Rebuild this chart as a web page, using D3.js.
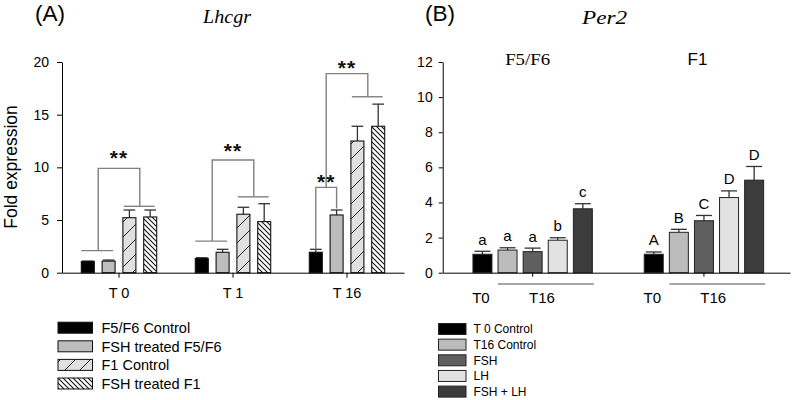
<!DOCTYPE html>
<html><head><meta charset="utf-8">
<script src="https://cdn.jsdelivr.net/npm/d3@7"></script>
<style>body{margin:0;background:#fff} svg{display:block}</style>
</head><body><svg id="c" width="792" height="400"></svg>
<script>
// ---------- Panel A data (Lhcgr) ----------
const groupsA = ["T 0", "T 1", "T 16"];
const seriesA = ["F5/F6 Control", "FSH treated F5/F6", "F1 Control", "FSH treated F1"];
const meansA = [[1.07, 1.1, 5.22, 5.29], [1.35, 1.94, 5.55, 4.85], [1.94, 5.48, 12.5, 13.9]];
const errTopA = [[1.1, 1.2, 5.95, 5.95], [1.42, 2.22, 6.21, 6.55], [2.22, 5.95, 13.9, 16.0]];
const ticksA = [0, 5, 10, 15, 20];
// significance brackets: series indices on each side, levels in fold units
const bracketGroupA = [0, 1, 2, 2];
const bracketLeftA = [[0, 1], [0, 1], [0], [0, 1]];
const bracketRightA = [[2, 3], [2, 3], [1], [2, 3]];
const bracketLeftLowA = [2.1, 3.0, 2.2, 8.1];
const bracketRightLowA = [6.3, 7.2, 6.1, 16.7];
const bracketLeftBaseA = [true, true, false, false];
const bracketRightBaseA = [true, true, false, true];
const bracketTopA = [9.9, 10.7, 8.1, 18.9];
const starLevelA = [11.3, 12.0, 9.0, 19.9];
const starTextA = ["**", "**", "**", "**"];

// ---------- Panel B data (Per2) ----------
const groupsB = ["F5/F6", "F1"];
const seriesB = ["T 0 Control", "T16 Control", "FSH", "LH", "FSH + LH"];
const meansB = [[1.05, 1.29, 1.2, 1.85, 3.64], [1.05, 2.3, 2.96, 4.28, 5.27]];
const errTopB = [[1.22, 1.42, 1.4, 1.99, 3.93], [1.18, 2.47, 3.26, 4.66, 6.05]];
const lettersB = [["a", "a", "a", "b", "c"], ["A", "B", "C", "D", "D"]];
const ticksB = [0, 2, 4, 6, 8, 10, 12];
const timeLabelsB = ["T0", "T16"];

// ---------- setup ----------
const svg = d3.select("#c");
const FONT = "'Liberation Sans', Arial, sans-serif";
const SERIF = "'Liberation Serif', 'Times New Roman', serif";
svg.append("rect").attr("width", 792).attr("height", 400).attr("fill", "#fff");

const defs = svg.append("defs");
const pf = defs.append("pattern").attr("id", "hatchF").attr("patternUnits", "userSpaceOnUse")
  .attr("width", 15).attr("height", 15);
pf.append("rect").attr("width", 15).attr("height", 15).attr("fill", "#e0e0e0");
pf.append("path").attr("d", "M0,15 L15,0 M-4,4 L4,-4 M11,19 L19,11")
  .attr("stroke", "#222").attr("stroke-width", 1);
const pb = defs.append("pattern").attr("id", "hatchB").attr("patternUnits", "userSpaceOnUse")
  .attr("width", 5).attr("height", 5);
pb.append("rect").attr("width", 5).attr("height", 5).attr("fill", "#fff");
pb.append("path").attr("d", "M0,0 L5,5 M-2,3 L2,7 M3,-2 L7,2")
  .attr("stroke", "#111").attr("stroke-width", 1.1);

const fillsA = ["#000000", "#bdbdbd", "url(#hatchF)", "url(#hatchB)"];
const fillsB = ["#000000", "#bcbcbc", "#5f5f5f", "#e2e2e2", "#3c3c3c"];

function styleAxis(g, size) {
  g.selectAll("path,line").attr("stroke", "#000").attr("stroke-width", 1);
  g.selectAll("text").attr("font-family", FONT).attr("font-size", size).attr("fill", "#000");
}

// ---------- Panel A ----------
const yA = d3.scaleLinear().domain([0, 20]).range([272.7, 62]);
const x0A = d3.scaleBand().domain(groupsA).range([62, 404]);
const halfA = x0A.bandwidth() / 2;
const x1A = d3.scaleBand().domain(seriesA).range([halfA - 41.6, halfA + 41.6])
  .paddingInner(0.375).paddingOuter(0.1875);
const bwA = x1A.bandwidth();
const cxA = (gi, si) => x0A(groupsA[gi]) + x1A(seriesA[si]) + bwA / 2;

const gA = svg.append("g");
groupsA.forEach((g, gi) => {
  seriesA.forEach((s, si) => {
    const v = meansA[gi][si], e = errTopA[gi][si], cx = cxA(gi, si);
    gA.append("line").attr("x1", cx).attr("x2", cx).attr("y1", yA(v)).attr("y2", yA(e))
      .attr("stroke", "#333").attr("stroke-width", 1.3);
    gA.append("line").attr("x1", cx - bwA * 0.45).attr("x2", cx + bwA * 0.45)
      .attr("y1", yA(e)).attr("y2", yA(e)).attr("stroke", "#333").attr("stroke-width", 1.3);
    gA.append("rect").attr("x", cx - bwA / 2).attr("y", yA(v))
      .attr("width", bwA).attr("height", yA(0) - yA(v))
      .attr("fill", fillsA[si]).attr("stroke", "#111").attr("stroke-width", 1.1);
  });
});

// brackets
const gBr = svg.append("g").attr("stroke", "#808080").attr("stroke-width", 1.4).attr("fill", "none");
function sideInfo(gi, idx) {
  const l = x0A(groupsA[gi]) + x1A(seriesA[idx[0]]);
  const r = x0A(groupsA[gi]) + x1A(seriesA[idx[idx.length - 1]]) + bwA;
  const xv = idx.length === 1 ? cxA(gi, idx[0]) : (cxA(gi, idx[0]) + cxA(gi, idx[idx.length - 1])) / 2;
  return { l, r, xv };
}
bracketGroupA.forEach((gi, k) => {
  const L = sideInfo(gi, bracketLeftA[k]), R = sideInfo(gi, bracketRightA[k]);
  const yL = yA(bracketLeftLowA[k]), yR = yA(bracketRightLowA[k]), yT = yA(bracketTopA[k]);
  if (bracketLeftBaseA[k]) gBr.append("line").attr("x1", L.l).attr("x2", L.r - 2).attr("y1", yL).attr("y2", yL);
  if (bracketRightBaseA[k]) gBr.append("line").attr("x1", R.l + 1).attr("x2", R.r - 2).attr("y1", yR).attr("y2", yR);
  gBr.append("path").attr("d", `M${L.xv},${yL} V${yT} H${R.xv} V${yR}`);
  svg.append("text").attr("x", (L.xv + R.xv) / 2).attr("y", yA(starLevelA[k])).attr("dy", "0.55em")
    .attr("text-anchor", "middle").attr("font-family", FONT).attr("font-size", 21).attr("font-weight", "bold")
    .attr("letter-spacing", 1).attr("fill", "#111").text(starTextA[k]);
});

const axYA = svg.append("g").attr("transform", "translate(62,0)")
  .call(d3.axisLeft(yA).tickValues(ticksA).tickSize(5).tickSizeOuter(0).tickPadding(8));
styleAxis(axYA, 14);
const axXA = svg.append("g").attr("transform", `translate(0,${yA(0)})`)
  .call(d3.axisBottom(x0A).tickSize(5).tickSizeOuter(0).tickPadding(10));
styleAxis(axXA, 14.5);

svg.append("text").attr("transform", "translate(17,167) rotate(-90)").attr("text-anchor", "middle")
  .attr("font-family", FONT).attr("font-size", 17.5).text("Fold expression");
svg.append("text").attr("x", 35).attr("y", 21).attr("font-family", FONT).attr("font-size", 22.5).text("(A)");
svg.append("text").attr("x", 203).attr("y", 23).attr("font-family", SERIF).attr("font-style", "italic")
  .attr("font-size", 19).attr("textLength", 48).attr("lengthAdjust", "spacingAndGlyphs").text("Lhcgr");

// legend A
const legA = svg.append("g");
seriesA.forEach((s, i) => {
  const cy = 327.7 + i * 18.6;
  legA.append("rect").attr("x", 58).attr("y", cy - 5.5).attr("width", 34.5).attr("height", 11)
    .attr("fill", fillsA[i]).attr("stroke", "#111").attr("stroke-width", 1);
  legA.append("text").attr("x", 101.5).attr("y", cy).attr("dy", "0.36em")
    .attr("font-family", FONT).attr("font-size", 14.5).text(s);
});

// ---------- Panel B ----------
const yB = d3.scaleLinear().domain([0, 12]).range([272.7, 62]);
const x0B = d3.scaleBand().domain(groupsB).range([442.7, 790])
  .paddingInner(0).paddingOuter(0.0137).align(0.915);
const halfB = x0B.bandwidth() / 2;
const x1B = d3.scaleBand().domain(seriesB).range([halfB - 62.75, halfB + 62.75])
  .paddingInner(0.243).paddingOuter(0.1215);
const bwB = x1B.bandwidth();
const cxB = (gi, si) => x0B(groupsB[gi]) + x1B(seriesB[si]) + bwB / 2;

const gB = svg.append("g");
groupsB.forEach((g, gi) => {
  seriesB.forEach((s, si) => {
    const v = meansB[gi][si], e = errTopB[gi][si], cx = cxB(gi, si);
    gB.append("line").attr("x1", cx).attr("x2", cx).attr("y1", yB(v)).attr("y2", yB(e))
      .attr("stroke", "#333").attr("stroke-width", 1.3);
    gB.append("line").attr("x1", cx - bwB * 0.42).attr("x2", cx + bwB * 0.42)
      .attr("y1", yB(e)).attr("y2", yB(e)).attr("stroke", "#333").attr("stroke-width", 1.3);
    gB.append("rect").attr("x", cx - bwB / 2).attr("y", yB(v))
      .attr("width", bwB).attr("height", yB(0) - yB(v))
      .attr("fill", fillsB[si]).attr("stroke", "#222").attr("stroke-width", 1);
    gB.append("text").attr("x", cx).attr("y", yB(e) - 6.5).attr("text-anchor", "middle")
      .attr("font-family", FONT).attr("font-size", 15).text(lettersB[gi][si]);
  });
  // group titles
  const gc = x0B(g) + halfB;
  if (gi === 0) {
    svg.append("text").attr("x", gc - 5).attr("y", 65).attr("text-anchor", "middle")
      .attr("font-family", SERIF).attr("font-size", 16).attr("textLength", 45)
      .attr("lengthAdjust", "spacingAndGlyphs").text(g);
  } else {
    svg.append("text").attr("x", gc - 6.5).attr("y", 65).attr("text-anchor", "middle")
      .attr("font-family", FONT).attr("font-size", 17).text(g);
  }
  // time labels below axis
  const lineL = x0B(g) + x1B(seriesB[1]);
  const lineR = x0B(g) + x1B(seriesB[seriesB.length - 1]) + bwB + 1.5;
  svg.append("line").attr("x1", lineL).attr("x2", lineR).attr("y1", 284).attr("y2", 284)
    .attr("stroke", "#888").attr("stroke-width", 1.4);
  svg.append("text").attr("x", cxB(gi, 0) - 1.5).attr("y", 303).attr("text-anchor", "middle")
    .attr("font-family", FONT).attr("font-size", 15).text(timeLabelsB[0]);
  svg.append("text").attr("x", (lineL + lineR) / 2 - 4).attr("y", 303).attr("text-anchor", "middle")
    .attr("font-family", FONT).attr("font-size", 15).text(timeLabelsB[1]);
});

const axYB = svg.append("g").attr("transform", "translate(442.7,0)")
  .call(d3.axisLeft(yB).tickValues(ticksB).tickSize(4).tickSizeOuter(0).tickPadding(6));
styleAxis(axYB, 14);
const axXB = svg.append("g").attr("transform", `translate(0,${yB(0)})`)
  .call(d3.axisBottom(x0B).tickSize(4).tickSizeOuter(0).tickFormat(""));
styleAxis(axXB, 14);

svg.append("text").attr("x", 425).attr("y", 21).attr("font-family", FONT).attr("font-size", 22.5).text("(B)");
svg.append("text").attr("x", 582).attr("y", 24).attr("font-family", SERIF).attr("font-style", "italic")
  .attr("font-size", 19).attr("textLength", 45).attr("lengthAdjust", "spacingAndGlyphs").text("Per2");

// legend B
const legB = svg.append("g");
seriesB.forEach((s, i) => {
  const cy = 329 + i * 15.65;
  legB.append("rect").attr("x", 438.5).attr("y", cy - 5.5).attr("width", 27.5).attr("height", 11)
    .attr("fill", fillsB[i]).attr("stroke", "#222").attr("stroke-width", 1);
  legB.append("text").attr("x", 473.5).attr("y", cy).attr("dy", "0.36em")
    .attr("font-family", FONT).attr("font-size", 12).text(s);
});
</script>
</body></html>
